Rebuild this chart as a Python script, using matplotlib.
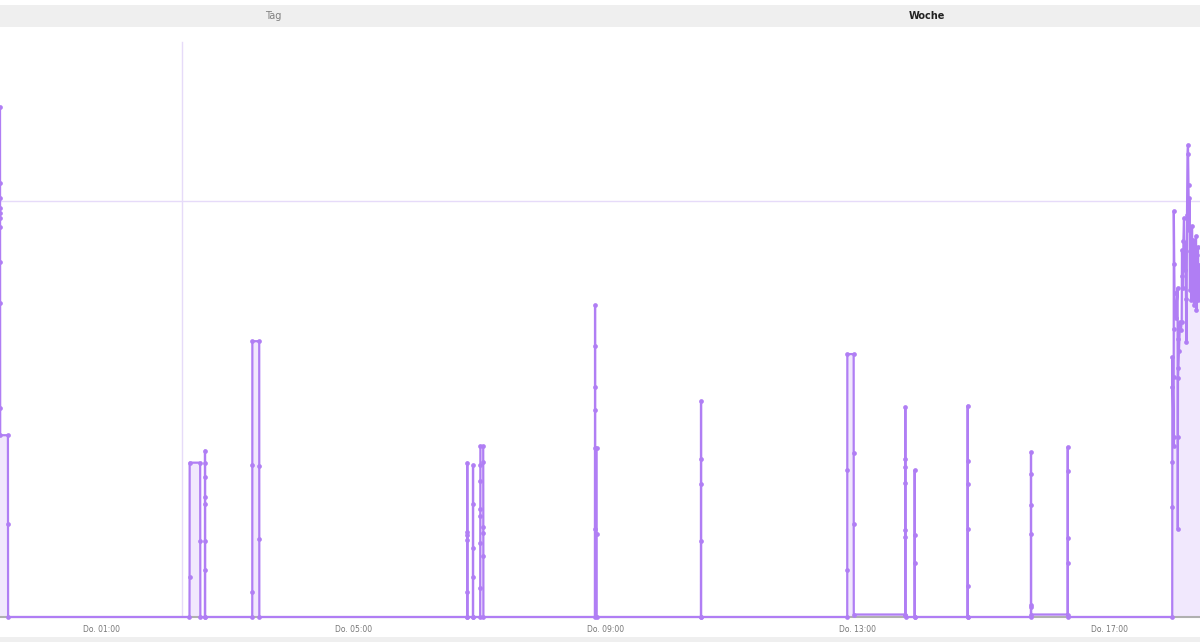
import matplotlib
matplotlib.use('Agg')
import matplotlib.pyplot as plt
import matplotlib.dates as mdates
from matplotlib.patches import Rectangle
import pandas as pd

# power readings (W), timestamps as "day HH:MM:SS" in May 2024 (16th = Thursday)
times = [
    # late Wednesday
    '15 23:22:53', '15 23:22:54', '15 23:22:55', '15 23:22:56', '15 23:22:57', '15 23:22:58',
    '15 23:22:59', '15 23:23:00', '15 23:23:01', '15 23:23:02', '15 23:23:03',
    '15 23:30:25', '15 23:30:30', '15 23:30:35',
    # night
    '16 02:23:20', '16 02:23:25', '16 02:23:30', '16 02:33:30', '16 02:33:35', '16 02:33:40',
    '16 02:38:00', '16 02:38:02', '16 02:38:04', '16 02:38:06', '16 02:38:08', '16 02:38:10',
    '16 02:38:12', '16 02:38:14', '16 02:38:16',
    '16 03:23:05', '16 03:23:08', '16 03:23:10', '16 03:23:12', '16 03:29:45', '16 03:29:47',
    '16 03:29:49', '16 03:29:51',
    # morning
    '16 06:47:50', '16 06:47:52', '16 06:47:54', '16 06:47:56', '16 06:47:58', '16 06:48:00',
    '16 06:48:02',
    '16 06:53:16', '16 06:53:18', '16 06:53:20', '16 06:53:22', '16 06:53:24', '16 06:53:26',
    '16 07:00:10', '16 07:00:12', '16 07:00:14', '16 07:00:15', '16 07:00:16', '16 07:00:18',
    '16 07:00:20', '16 07:00:22', '16 07:03:05', '16 07:03:07', '16 07:03:09', '16 07:03:11',
    '16 07:03:13', '16 07:03:15',
    '16 08:49:25', '16 08:49:27', '16 08:49:29', '16 08:49:31', '16 08:49:33', '16 08:49:35',
    '16 08:49:40', '16 08:51:05', '16 08:51:07', '16 08:51:09',
    '16 10:30:25', '16 10:30:27', '16 10:30:29', '16 10:30:31', '16 10:30:33', '16 10:30:35',
    # afternoon
    '16 12:49:45', '16 12:49:47', '16 12:49:49', '16 12:49:51', '16 12:55:53', '16 12:55:55',
    '16 12:55:57', '16 12:55:59',
    '16 13:44:59', '16 13:45:01', '16 13:45:03', '16 13:45:05', '16 13:45:07', '16 13:45:09',
    '16 13:45:11', '16 13:45:13', '16 13:45:15',
    '16 13:53:56', '16 13:53:58', '16 13:54:00', '16 13:54:02', '16 13:54:04',
    '16 14:44:21', '16 14:44:23', '16 14:44:25', '16 14:44:27', '16 14:44:29', '16 14:44:31',
    '16 14:44:33',
    '16 15:44:40', '16 15:44:42', '16 15:44:44', '16 15:44:46', '16 15:44:48', '16 15:44:50',
    '16 15:44:55', '16 15:45:00',
    '16 16:19:41', '16 16:19:43', '16 16:19:45', '16 16:19:47', '16 16:19:49', '16 16:19:51',
    # evening
    '16 17:59:16', '16 17:59:18', '16 17:59:20', '16 17:59:22', '16 17:59:24',
    '16 18:00:36', '16 18:00:38', '16 18:00:40', '16 18:00:42', '16 18:00:44', '16 18:00:46',
    '16 18:01:26', '16 18:01:54', '16 18:02:51',
    '16 18:04:25', '16 18:04:27', '16 18:04:29', '16 18:04:31', '16 18:04:33', '16 18:04:46',
    '16 18:05:40', '16 18:06:40', '16 18:07:30', '16 18:08:17', '16 18:08:34', '16 18:09:00',
    '16 18:09:31', '16 18:09:55', '16 18:10:29', '16 18:10:50', '16 18:11:26', '16 18:11:50',
    '16 18:12:23', '16 18:12:51', '16 18:13:20', '16 18:13:49', '16 18:14:17', '16 18:14:46',
    '16 18:15:14', '16 18:15:43', '16 18:16:11', '16 18:16:35', '16 18:17:09', '16 18:17:37',
    '16 18:18:06', '16 18:18:30', '16 18:19:03', '16 18:19:31', '16 18:20:00', '16 18:20:25',
    '16 18:20:57', '16 18:21:26', '16 18:21:54', '16 18:22:23', '16 18:22:51', '16 18:23:20',
    '16 18:23:49', '16 18:24:17', '16 18:24:46', '16 18:25:10', '16 18:25:43', '16 18:26:40',
]
watts = [
    1226, 1043, 1007, 983, 971, 959,
    937, 853, 755, 502, 437,
    437, 224, 0,
    0, 96, 371, 371, 183, 0,
    0, 113, 272, 400, 371, 337,
    288, 183, 0,
    0, 61, 365, 663, 663, 363,
    188, 0,
    0, 61, 371, 205, 197, 185,
    0,
    0, 96, 272, 365, 166, 0,
    0, 70, 179, 243, 260, 328,
    365, 411, 411, 373, 217, 201,
    147, 0,
    0, 211, 498, 554, 651, 750,
    407, 407, 200, 0,
    0, 183, 320, 519, 380, 0,
    0, 113, 353, 632, 632, 394,
    223, 6,
    6, 193, 361, 505, 381, 321,
    209, 5, 0,
    0, 196, 353, 129, 0,
    0, 75, 212, 375, 508, 320,
    0,
    0, 199, 343, 396, 270, 29,
    25, 6,
    6, 129, 352, 409, 189, 0,
    0, 264, 373, 553, 625,
    411, 433, 577, 692, 849, 976,
    779, 733, 719,
    791, 668, 599, 433, 212, 575,
    640, 709, 690, 709, 882, 820,
    791, 905, 959, 850, 834, 900,
    765, 661, 966, 1113, 1135, 1039,
    930, 1007, 786, 880, 865, 762,
    940, 845, 808, 906, 750, 830,
    858, 786, 916, 738, 822, 870,
    890, 762, 846, 790, 798, 830,
]

tick_hours = [1, 5, 9, 13, 17]

LINE = '#b07ef4'
FILL = '#f1e8fd'
GRID = '#e6dbf9'

ts = pd.to_datetime(['2024-05-' + t for t in times], format='%Y-%m-%d %H:%M:%S')

fig = plt.figure(figsize=(12, 6.42), dpi=100)
ax = fig.add_axes([0, 25 / 642, 1, 577 / 642])

ax.fill_between(ts, watts, 0, color=FILL, linewidth=0, zorder=1)
ax.plot(ts, watts, color=LINE, linewidth=1.6, marker='o', markersize=3.4,
        markeredgewidth=0, clip_on=False, zorder=3)

ax.axhline(1000, color=GRID, linewidth=1, zorder=0)
ax.axvline(pd.Timestamp('2024-05-16 02:16:11'), ymin=0, ymax=575 / 577,
           color=GRID, linewidth=1, zorder=0)

ax.set_xlim(pd.Timestamp('2024-05-15 23:22:52'), pd.Timestamp('2024-05-16 18:25:43'))
ax.set_ylim(0, 1387)

ax.xaxis.set_major_locator(mdates.HourLocator(byhour=tick_hours))
ax.xaxis.set_major_formatter(mdates.DateFormatter('Do. %H:%M'))
ax.tick_params(axis='x', length=0, pad=6, labelsize=5.5, labelcolor='#777777')
ax.set_yticks([])
for side in ['top', 'right', 'left']:
    ax.spines[side].set_visible(False)
ax.spines['bottom'].set_color('#b0b0b0')
ax.spines['bottom'].set_linewidth(1.5)
ax.spines['bottom'].set_zorder(2)

# tab bar on top, strip at the bottom
fig.patches.append(Rectangle((0, (642 - 27) / 642), 1, 22 / 642, transform=fig.transFigure,
                             facecolor='#efefef', edgecolor='none', zorder=0))
fig.patches.append(Rectangle((0, 0), 1, 5 / 642, transform=fig.transFigure,
                             facecolor='#efefef', edgecolor='none', zorder=0))
fig.text(273 / 1200, 1 - 16 / 642, 'Tag', ha='center', va='center', fontsize=7, color='#808080')
fig.text(927 / 1200, 1 - 16 / 642, 'Woche', ha='center', va='center', fontsize=7,
         color='#222222', fontweight='bold')

fig.savefig('out.png', dpi=100)
